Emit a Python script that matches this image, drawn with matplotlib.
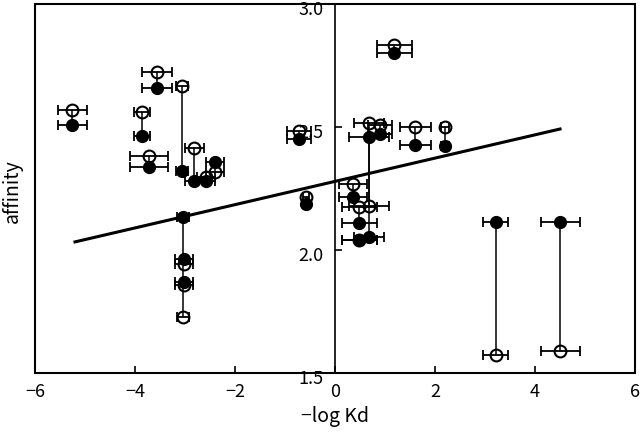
import matplotlib
matplotlib.use('Agg')
import matplotlib.pyplot as plt
import matplotlib.transforms as mtransforms

plt.rcParams['font.family'] = ['Noto Sans CJK JP', 'DejaVu Sans']

# -log Kd, its error, affinity (open / filled)
kd = [-5.26, -3.56, -3.07, -3.87, -3.72, -2.82, -2.40, -2.58, -0.72, -0.58,
      -3.04, -3.03, -3.03, 1.18, 0.68, 0.68, 0.90, 0.36, 0.48, 0.48,
      1.60, 2.19, 3.21, 4.50]
kd_err = [0.29, 0.30, 0.12, 0.16, 0.38, 0.19, 0.18, 0.18, 0.24, 0.06,
          0.12, 0.18, 0.18, 0.35, 0.30, 0.40, 0.24, 0.28, 0.35, 0.35,
          0.31, 0.08, 0.25, 0.39]
aff_open = [2.569, 2.725, 2.667, 2.562, 2.383, 2.413, 2.316, 2.298, 2.484, 2.215,
            1.728, 1.943, 1.858, 2.833, 2.516, 2.179, 2.508, 2.268, 2.175, 2.041,
            2.501, 2.501, 1.573, 1.591]
aff_filled = [2.508, 2.659, 2.321, 2.463, 2.336, 2.282, 2.356, 2.280, 2.451, 2.187,
              2.134, 1.963, 1.870, 2.802, 2.053, 2.459, 2.472, 2.215, 2.110, 2.041,
              2.427, 2.423, 2.113, 2.115]

# regression line end points
fit_x = [-5.2, 4.5]
fit_y = [2.033, 2.492]

fig = plt.figure(figsize=(6.4, 4.34), dpi=100)
ax = fig.add_axes([0.0547, 0.1406, 0.9375, 0.85])

# connecting lines
ax.vlines(kd, aff_filled, aff_open, colors='black', linewidth=1.1, zorder=1)

ax.errorbar(kd, aff_open, xerr=kd_err, fmt='none', ecolor='black',
            elinewidth=1.3, capsize=3.5, capthick=1.3, zorder=2)
ax.errorbar(kd, aff_filled, xerr=kd_err, fmt='none', ecolor='black',
            elinewidth=1.3, capsize=3.5, capthick=1.3, zorder=2)
ax.plot(kd, aff_open, 'o', ms=8.5, mfc='none', mec='black', mew=1.5, zorder=3)
ax.plot(kd, aff_filled, 'o', ms=8.5, mfc='black', mec='black', zorder=4)

ax.plot(fit_x, fit_y, color='black', linewidth=2.2, zorder=5)

ax.set_xlim(-6, 6)
ax.set_ylim(1.5, 3.0)
ax.set_xticks([-6, -4, -2, 0, 2, 4, 6])
ax.set_xticklabels(['−6', '−4', '−2', '0', '2', '4', '6'])
ax.set_yticks([1.5, 2.0, 2.5, 3.0])
ax.set_yticklabels(['1.5', '2.0', '2.5', '3.0'])

ax.spines['left'].set_position(('data', 0))
ax.patch.set_edgecolor('black')
ax.patch.set_linewidth(1.5)
for s in ax.spines.values():
    s.set_linewidth(1.2)

ax.tick_params(axis='both', direction='in', length=5, width=1.2, labelsize=13)
ax.tick_params(axis='x', pad=7)
ax.tick_params(axis='y', pad=8)

# y labels sit a little below their ticks in the original
shift = mtransforms.ScaledTranslation(0, -3 / 72, fig.dpi_scale_trans)
for lab in ax.get_yticklabels():
    lab.set_transform(lab.get_transform() + shift)

ax.set_xlabel('−log Kd', fontsize=14, labelpad=4)
fig.text(0.02, 0.56, 'affinity', rotation=90, fontsize=14, ha='center', va='center')

fig.savefig('out.png', dpi=100)
